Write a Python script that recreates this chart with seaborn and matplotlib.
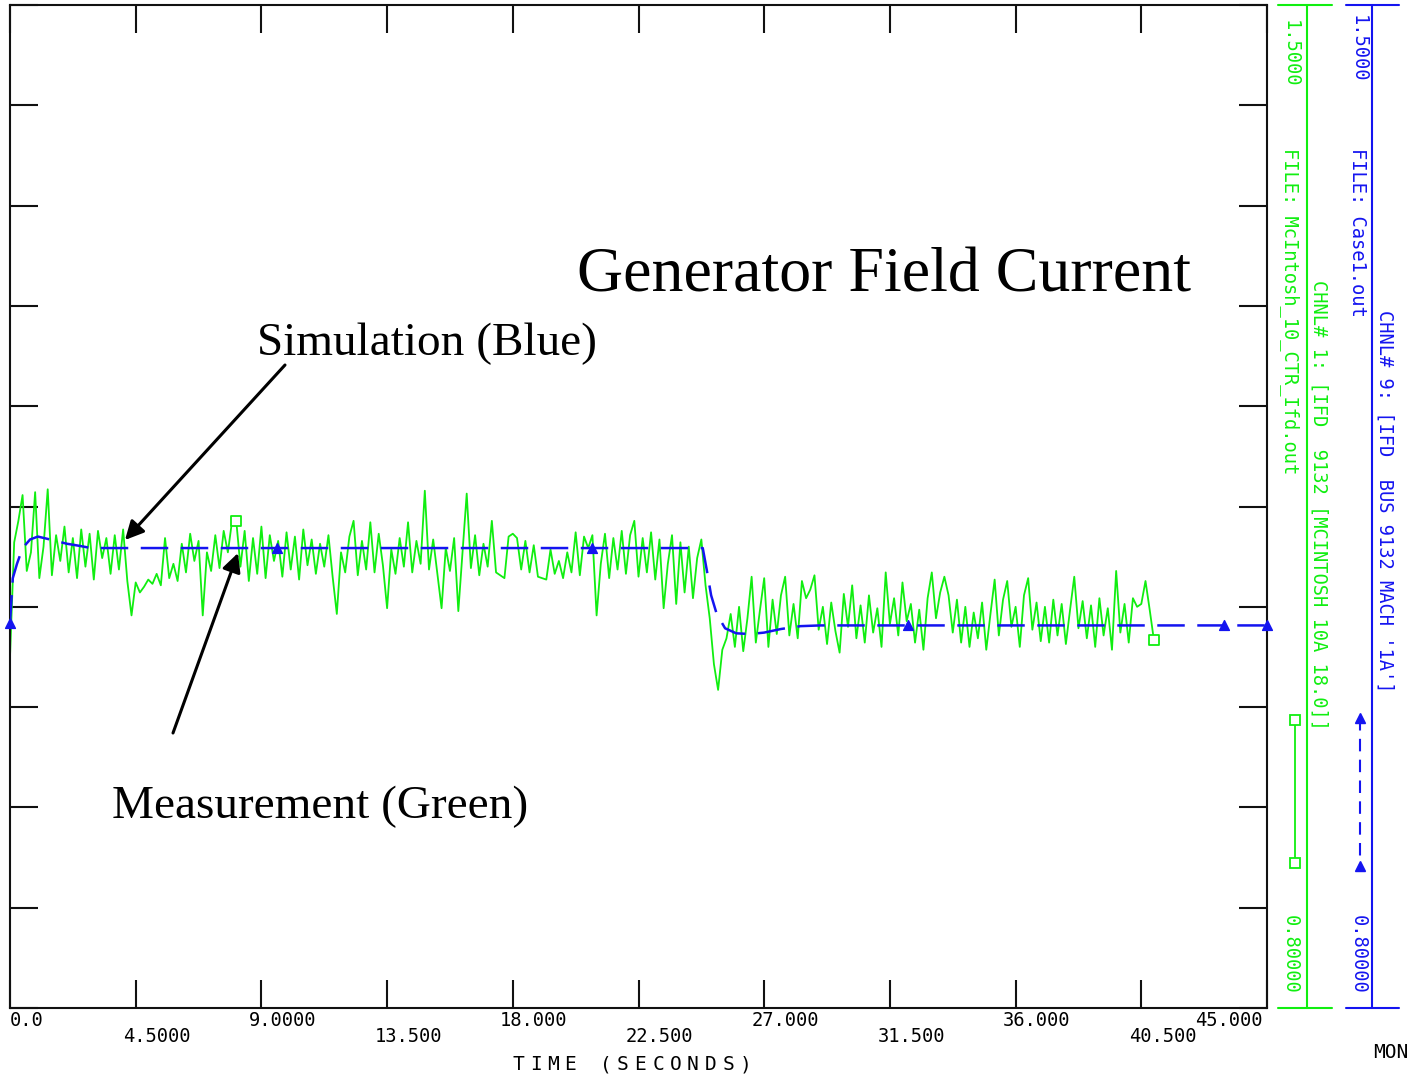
import numpy as np
import pandas as pd
import matplotlib
matplotlib.use("Agg")
import matplotlib.pyplot as plt
import seaborn as sns

GREEN = "#10EE10"
BLUE = "#1414F0"
MONO = "DejaVu Sans Mono"
SERIF = "Liberation Serif"

# measured field current (green), one sample every DT seconds
DT = 0.15
meas_vals = [
    1.045, 1.125, 1.140, 1.158, 1.105, 1.118, 1.160, 1.100, 1.122, 1.162,
    1.102, 1.130, 1.112, 1.136, 1.104, 1.128, 1.100, 1.134, 1.108, 1.131,
    1.099, 1.133, 1.114, 1.128, 1.103, 1.130, 1.106, 1.134, 1.098, 1.074,
    1.097, 1.090, 1.094, 1.099, 1.096, 1.103, 1.095, 1.128, 1.100, 1.110,
    1.098, 1.124, 1.104, 1.131, 1.112, 1.126, 1.074, 1.118, 1.105, 1.130,
    1.107, 1.133, 1.118, 1.140, 1.140, 1.108, 1.133, 1.098, 1.128, 1.103,
    1.136, 1.100, 1.130, 1.112, 1.126, 1.101, 1.132, 1.106, 1.129, 1.099,
    1.134, 1.109, 1.127, 1.103, 1.124, 1.108, 1.130, 1.101, 1.075, 1.118,
    1.104, 1.129, 1.140, 1.102, 1.126, 1.106, 1.139, 1.104, 1.131, 1.109,
    1.079, 1.120, 1.103, 1.128, 1.108, 1.139, 1.104, 1.126, 1.110, 1.161,
    1.106, 1.127, 1.103, 1.079, 1.121, 1.105, 1.128, 1.077, 1.118, 1.159,
    1.107, 1.130, 1.102, 1.124, 1.108, 1.140, 1.104, 1.102, 1.100, 1.129,
    1.131, 1.128, 1.106, 1.126, 1.104, 1.123, 1.101, 1.100, 1.099, 1.120,
    1.103, 1.112, 1.100, 1.118, 1.104, 1.132, 1.102, 1.129, 1.121, 1.130,
    1.074, 1.110, 1.131, 1.100, 1.128, 1.106, 1.133, 1.103, 1.130, 1.140,
    1.101, 1.128, 1.104, 1.132, 1.099, 1.127, 1.079, 1.110, 1.130, 1.082,
    1.125, 1.090, 1.122, 1.086, 1.114, 1.127, 1.095, 1.072, 1.040, 1.022,
    1.050, 1.058, 1.075, 1.052, 1.080, 1.049, 1.072, 1.101, 1.055, 1.078,
    1.100, 1.052, 1.085, 1.061, 1.088, 1.101, 1.060, 1.082, 1.058, 1.098,
    1.086, 1.092, 1.102, 1.064, 1.080, 1.054, 1.083, 1.063, 1.048, 1.089,
    1.066, 1.095, 1.058, 1.081, 1.055, 1.088, 1.062, 1.079, 1.052, 1.104,
    1.068, 1.086, 1.060, 1.097, 1.070, 1.082, 1.055, 1.078, 1.050, 1.086,
    1.104, 1.072, 1.090, 1.101, 1.088, 1.062, 1.085, 1.055, 1.080, 1.052,
    1.076, 1.058, 1.083, 1.050, 1.075, 1.099, 1.060, 1.085, 1.098, 1.066,
    1.080, 1.052, 1.088, 1.100, 1.064, 1.083, 1.056, 1.080, 1.055, 1.085,
    1.060, 1.082, 1.054, 1.078, 1.101, 1.065, 1.084, 1.058, 1.081, 1.052,
    1.086, 1.060, 1.079, 1.050, 1.105, 1.062, 1.082, 1.055, 1.086, 1.080,
    1.082, 1.098, 1.078, 1.057,
]
meas_marker_idx = [54, 273]

# simulated field current (blue)
sim_t = [0.0, 0.1, 0.25, 0.45, 0.72, 1.0, 1.43, 2.04, 2.5, 2.9,
         24.8, 24.95, 25.1, 25.3, 25.6, 26.0, 26.5, 27.0, 27.6, 28.3, 29.0, 45.0]
sim_v = [1.069, 1.100, 1.110, 1.121, 1.127, 1.129, 1.127, 1.124, 1.1225, 1.121,
         1.121, 1.105, 1.088, 1.075, 1.065, 1.0615, 1.061, 1.062, 1.0645, 1.0665, 1.067, 1.067]
sim_marker_t = [0.0, 9.56, 20.84, 32.15, 43.47, 45.0]

x_ticks = [0, 4.5, 9, 13.5, 18, 22.5, 27, 31.5, 36, 40.5, 45]
x_labels = ["0.0", "4.5000", "9.0000", "13.500", "18.000", "22.500",
            "27.000", "31.500", "36.000", "40.500", "45.000"]
y_lo, y_hi = 0.8, 1.5

sns.set_theme(style="white")
W, H = 1428, 1078
fig = plt.figure(figsize=(W / 100, H / 100), dpi=100)
ax = fig.add_axes([10 / W, 1 - 1008 / H, 1257 / W, 1003 / H])

meas = pd.DataFrame({"t": np.arange(len(meas_vals)) * DT, "v": meas_vals})
sns.lineplot(data=meas, x="t", y="v", ax=ax, color=GREEN, lw=1.3, zorder=2)
mk = meas.iloc[meas_marker_idx]
ax.scatter(mk["t"], mk["v"], marker="s", s=45, facecolors="white",
           edgecolors=GREEN, linewidths=1.3, zorder=3, clip_on=False)

sim = pd.DataFrame({"t": sim_t, "v": sim_v})
sns.lineplot(data=sim, x="t", y="v", ax=ax, color=BLUE, lw=1.8,
             linestyle=(0, (11, 5)), zorder=4)
ax.scatter(sim_marker_t, np.interp(sim_marker_t, sim_t, sim_v), marker="^",
           s=50, color=BLUE, zorder=5, clip_on=False)

ax.set_xlim(0, 45)
ax.set_ylim(y_lo, y_hi)
ax.set_xticks(x_ticks)
ax.set_yticks(np.linspace(y_lo, y_hi, 11))
ax.set_xlabel(""); ax.set_ylabel("")
ax.tick_params(direction="in", length=20, width=1.5, color="#111111",
               top=True, right=True, bottom=True, left=True,
               labelbottom=False, labelleft=False)
for s in ax.spines.values():
    s.set_color("#111111"); s.set_linewidth(1.5)

# staggered tick labels below the axis
tr = matplotlib.transforms.blended_transform_factory(ax.transData, ax.transAxes)
tk = dict(transform=tr, va="center", family=MONO, fontsize=13.5, color="black")
for i, (xt, lab) in enumerate(zip(x_ticks, x_labels)):
    yy = -0.012 if i % 2 == 0 else -0.028
    if i == 0:
        ax.text(xt, yy, lab, ha="left", **tk)
    elif i == len(x_ticks) - 1:
        ax.text(xt - 0.15, yy, lab, ha="right", **tk)
    else:
        ax.text(xt - 0.45, yy, lab, ha="left", **tk)

# overlay in pixel coordinates for annotations and the channel panel
ov = fig.add_axes([0, 0, 1, 1], zorder=10)
ov.set_xlim(0, W); ov.set_ylim(H, 0); ov.axis("off"); ov.patch.set_alpha(0)

# wide-pitched axis title, one character at a time
for k, ch in enumerate("TIME (SECONDS)"):
    ov.text(518 + k * 17.5, 1065, ch, family=MONO, fontsize=14, color="black",
            ha="center", va="center")
ov.text(1373, 1052, "MON", family=MONO, fontsize=14, color="black",
        ha="left", va="center")

# channel panel
ov.plot([1307, 1307], [5, 1008], color=GREEN, lw=1.5)
ov.plot([1278, 1332], [5, 5], color=GREEN, lw=1.5)
ov.plot([1278, 1332], [1008, 1008], color=GREEN, lw=1.5)
ov.plot([1372, 1372], [5, 1008], color=BLUE, lw=1.5)
ov.plot([1346, 1399], [5, 5], color=BLUE, lw=1.5)
ov.plot([1346, 1399], [1008, 1008], color=BLUE, lw=1.5)
ov.plot([1295, 1295], [720, 863], color=GREEN, lw=1.3, marker="s", ms=7,
        mfc="white", mec=GREEN, mew=1.3)
ov.plot([1360, 1360], [718, 866], color=BLUE, lw=1.5, ls=(0, (6, 4)),
        marker="^", ms=7, mfc=BLUE, mec=BLUE)

vt = dict(family=MONO, fontsize=13.5, rotation=-90, ha="center", va="top")
ov.text(1290, 20, "1.5000", color=GREEN, **vt)
ov.text(1290, 148, "FILE: McIntosh_10_CTR_Ifd.out", color=GREEN, **vt)
ov.text(1319, 280, "CHNL# 1: [IFD  9132 [MCINTOSH 10A 18.0]]", color=GREEN, **vt)
ov.text(1290, 915, "0.80000", color=GREEN, **vt)
ov.text(1358, 15, "1.5000", color=BLUE, **vt)
ov.text(1358, 148, "FILE: Case1.out", color=BLUE, **vt)
ov.text(1385, 310, "CHNL# 9: [IFD  BUS 9132 MACH '1A']", color=BLUE, **vt)
ov.text(1358, 915, "0.80000", color=BLUE, **vt)

# annotations
ov.text(577, 292, "Generator Field Current", family=SERIF, fontsize=46,
        color="black", ha="left", va="baseline")
ov.text(257, 355, "Simulation (Blue)", family=SERIF, fontsize=34,
        color="black", ha="left", va="baseline")
ov.text(112, 818, "Measurement (Green)", family=SERIF, fontsize=34,
        color="black", ha="left", va="baseline")
arrow = dict(arrowstyle="-|>", color="black", lw=2.2, mutation_scale=28,
             shrinkA=0, shrinkB=0)
ov.annotate("", xy=(125, 540), xytext=(285, 365), arrowprops=arrow)
ov.annotate("", xy=(238, 553), xytext=(173, 733), arrowprops=arrow)

fig.savefig("out.png", dpi=100)
plt.close(fig)
